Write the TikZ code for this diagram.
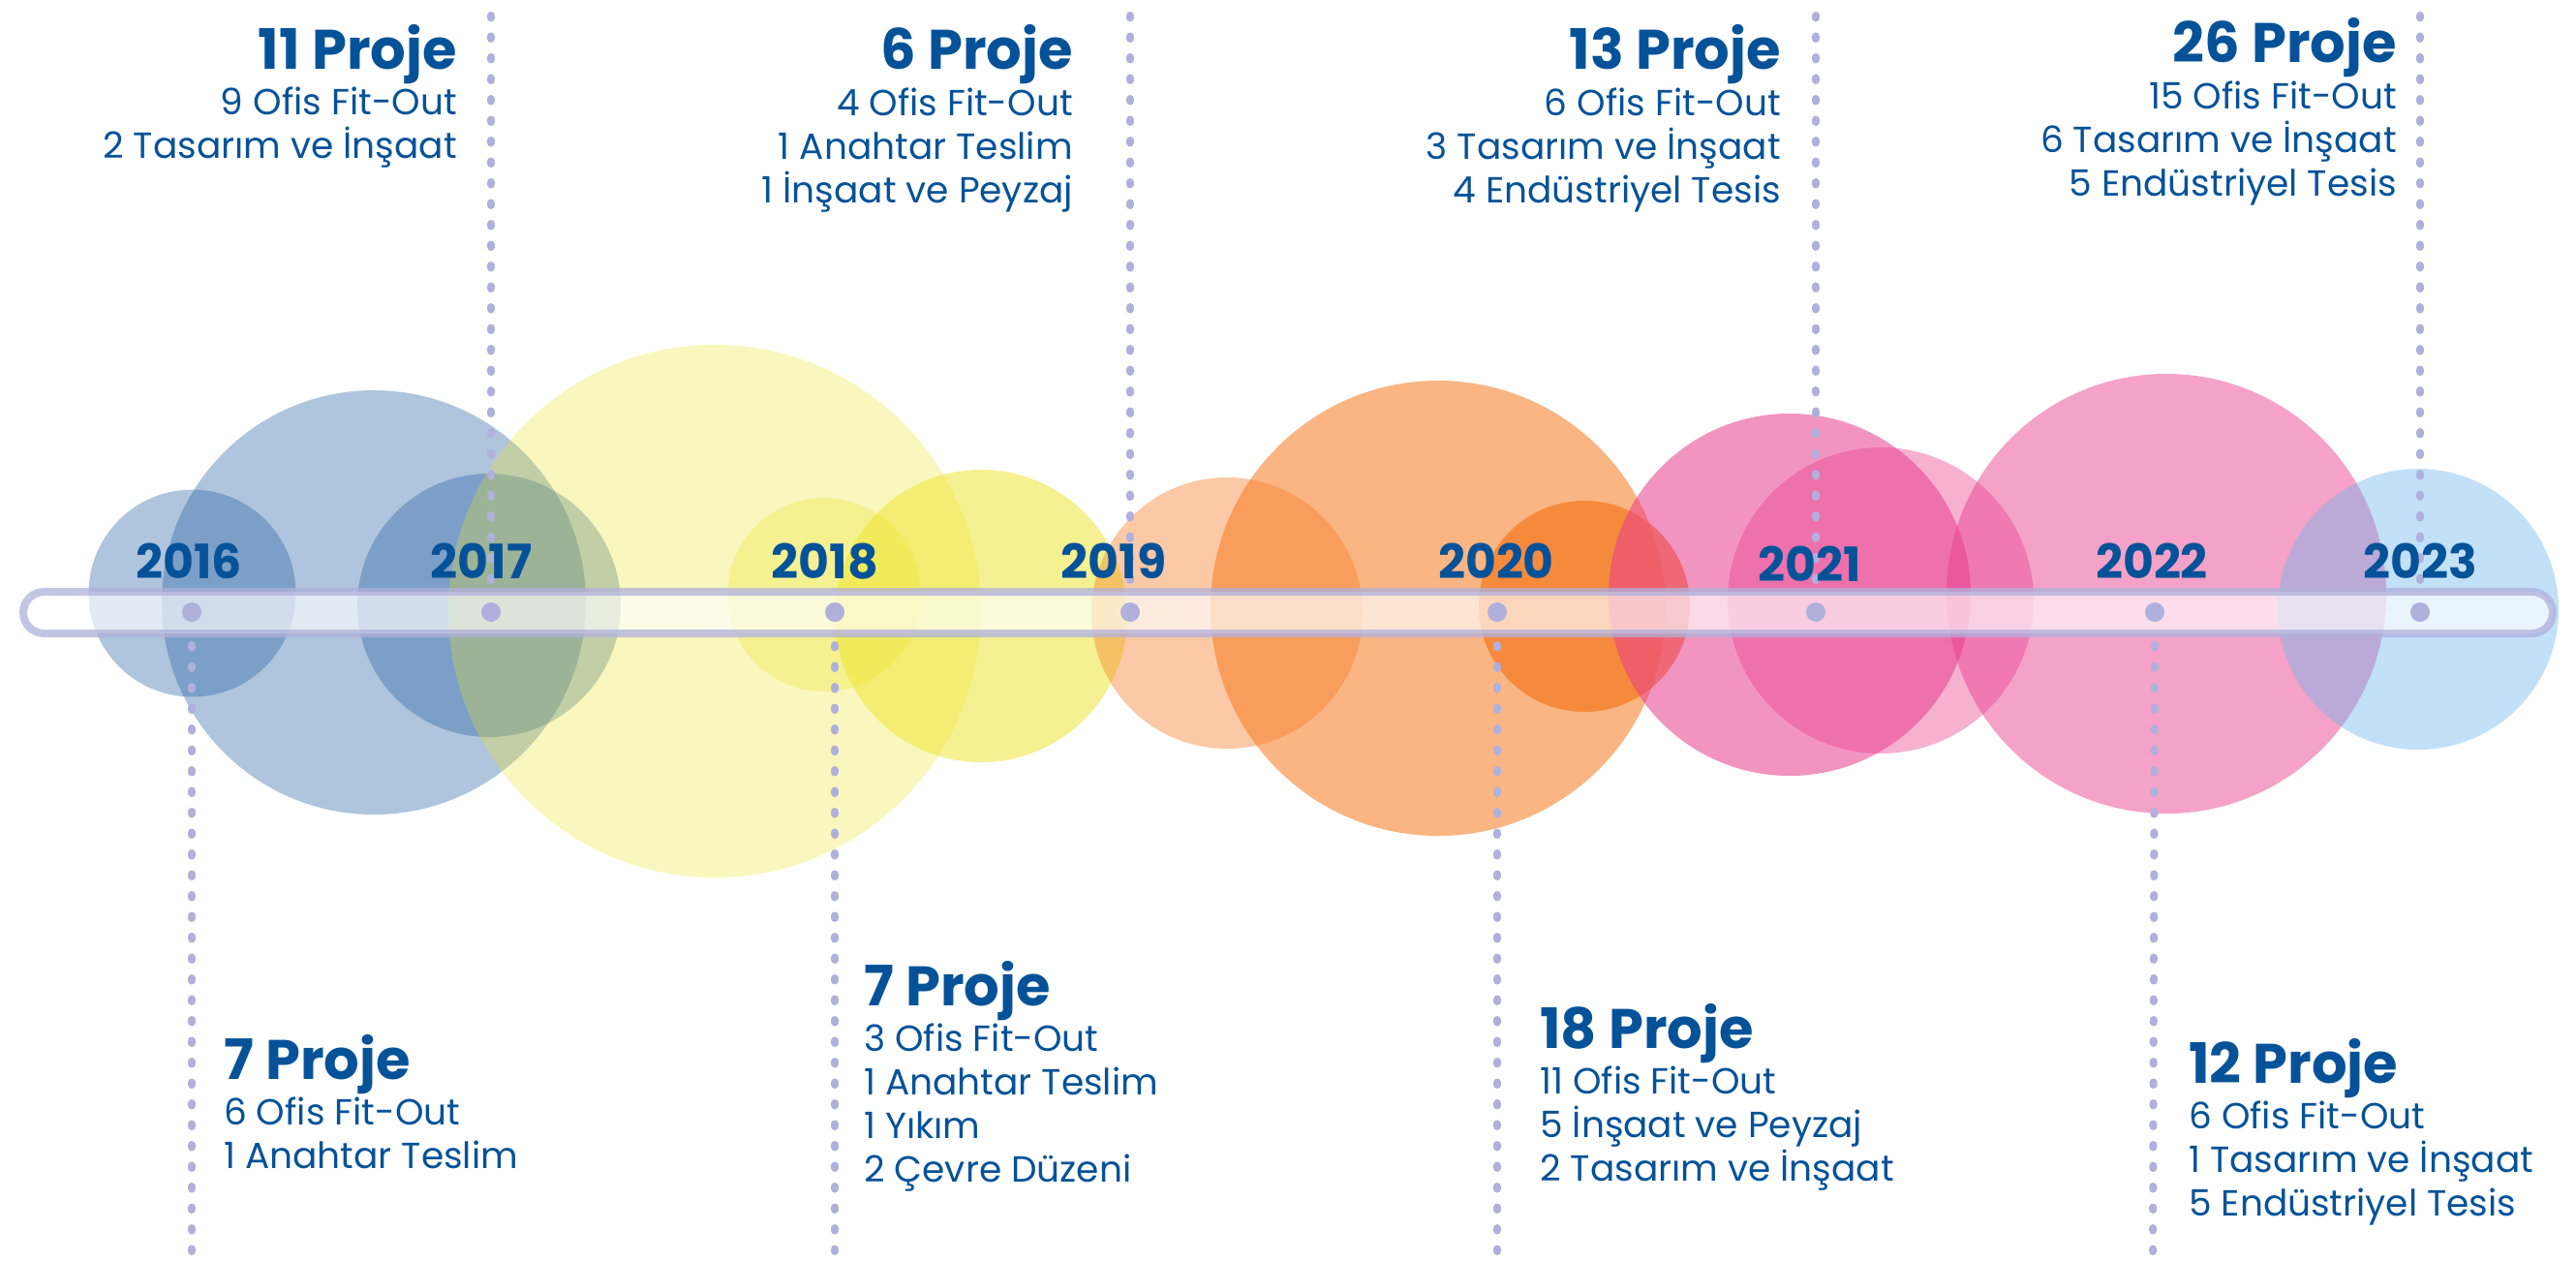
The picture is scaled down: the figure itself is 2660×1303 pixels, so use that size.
\documentclass[tikz,border=0pt]{standalone}
\usepackage{fontspec}
\setmainfont{Poppins}
\usetikzlibrary{calc}

\definecolor{lavender}{RGB}{176,176,220}
\definecolor{deepblue}{RGB}{6,82,153}
\definecolor{bubbleblue}{RGB}{26,89,158}
\definecolor{bubbleyellow}{RGB}{236,228,40}
\definecolor{bubbleorange}{RGB}{245,120,30}
\definecolor{bubblepink}{RGB}{232,60,140}
\definecolor{bubblesky}{RGB}{110,182,235}

\begin{document}
\begin{tikzpicture}[x=1pt, y=-1pt,
        blue_bubble/.style={fill=bubbleblue, fill opacity=0.35},
        yellow_bubble/.style={fill=bubbleyellow, fill opacity=#1},
        orange_bubble/.style={fill=bubbleorange, fill opacity=#1},
        pink_bubble/.style={fill=bubblepink, fill opacity=#1},
        sky_bubble/.style={fill=bubblesky, fill opacity=0.42},
        bar_style/.style={draw=lavender, draw opacity=0.75, line width=8pt, fill=white, fill opacity=0.65,
            rounded corners=21.5pt, minimum width=2612pt, minimum height=43pt, inner sep=0pt},
        dot_style/.style={circle, fill=lavender, minimum size=20pt, inner sep=0pt},
        guide_style/.style={draw=lavender, line width=8pt, line cap=round, dash pattern=on 2.5pt off 19pt},
        year_style/.style={font=\fontsize{49}{52}\selectfont\bfseries, text=deepblue, anchor=base, inner sep=0pt},
        head_style/.style={font=\fontsize{57.5}{60}\selectfont\bfseries, text=deepblue, inner sep=0pt},
        info_style/.style={font=\fontsize{37.5}{45}\selectfont, text=deepblue, inner sep=0pt}]

        \useasboundingbox (0,0) rectangle (2660,1303);

        % bubbles
        \fill [blue_bubble] (198.5,612.5) circle (107pt);
        \fill [blue_bubble] (386,622) circle (219pt);
        \fill [blue_bubble] (505,625) circle (136pt);
        \fill [yellow_bubble=0.3] (738,631) circle (275pt);
        \fill [yellow_bubble=0.3] (851,614) circle (100pt);
        \fill [yellow_bubble=0.5] (1013,636) circle (151pt);
        \fill [orange_bubble=0.4] (1267,633) circle (140pt);
        \fill [orange_bubble=0.55] (1485,628) circle (235pt);
        \fill [orange_bubble=0.7] (1636,626) circle (109pt);
        \fill [pink_bubble=0.55] (1848,614) circle (187pt);
        \fill [pink_bubble=0.4] (1942,620) circle (158pt);
        \fill [pink_bubble=0.48] (2237,613) circle (227pt);
        \fill [sky_bubble] (2497,629) circle (145pt);

        % timeline
        \node [bar_style] (bar) at (1330,632.5) {};

        \node [dot_style] (d16) at (198,632) {};
        \node [dot_style] (d17) at (507,632) {};
        \node [dot_style] (d18) at (862,632) {};
        \node [dot_style] (d19) at (1167,632) {};
        \node [dot_style] (d20) at (1546,632) {};
        \node [dot_style] (d21) at (1875,632) {};
        \node [dot_style] (d22) at (2225,632) {};
        \node [dot_style] (d23) at (2499,632) {};

        \coordinate (b16) at (198,1310);
        \coordinate (t17) at (507,12);
        \coordinate (b18) at (862,1310);
        \coordinate (t19) at (1167,12);
        \coordinate (b20) at (1546,1310);
        \coordinate (t21) at (1875,12);
        \coordinate (b22) at (2223,1310);
        \coordinate (t23) at (2499,12);

        \draw [guide_style, shorten <=8pt] (bar.south -| d16) -- (b16);
        \draw [guide_style, shorten <=8pt] (bar.north -| d17) -- (t17);
        \draw [guide_style, shorten <=8pt] (bar.south -| d18) -- (b18);
        \draw [guide_style, shorten <=8pt] (bar.north -| d19) -- (t19);
        \draw [guide_style, shorten <=8pt] (bar.south -| d20) -- (b20);
        \draw [guide_style, shorten <=8pt] (bar.north -| d21) -- (t21);
        \draw [guide_style, shorten <=8pt] (bar.south -| d22) -- (b22);
        \draw [guide_style, shorten <=8pt] (bar.north -| d23) -- (t23);

        % years
        \node [year_style] (y16) at (195,597) {2016};
        \node [year_style] (y17) at (497,597) {2017};
        \node [year_style] (y18) at (852,597) {2018};
        \node [year_style] (y19) at (1150,597) {2019};
        \node [year_style] (y20) at (1545,597) {2020};
        \node [year_style] (y21) at (1869,600) {2021};
        \node [year_style] (y22) at (2222,597) {2022};
        \node [year_style] (y23) at (2499,597) {2023};

        % project counts above
        \node [head_style, anchor=base east] (h17) at (472,72) {11 Proje};
        \node [info_style, align=right, anchor=base east] (i17) at (472,164) {9 Ofis Fit-Out\\2 Tasarım ve İnşaat};

        \node [head_style, anchor=base east] (h19) at (1108,72) {6 Proje};
        \node [info_style, align=right, anchor=base east] (i19) at (1108,209) {4 Ofis Fit-Out\\1 Anahtar Teslim\\1 İnşaat ve Peyzaj};

        \node [head_style, anchor=base east] (h21) at (1839,72) {13 Proje};
        \node [info_style, align=right, anchor=base east] (i21) at (1839,209) {6 Ofis Fit-Out\\3 Tasarım ve İnşaat\\4 Endüstriyel Tesis};

        \node [head_style, anchor=base east] (h23) at (2475,65) {26 Proje};
        \node [info_style, align=right, anchor=base east] (i23) at (2475,202) {15 Ofis Fit-Out\\6 Tasarım ve İnşaat\\5 Endüstriyel Tesis};

        % project counts below
        \node [head_style, anchor=base west] (h16) at (231,1114) {7 Proje};
        \node [info_style, align=left, anchor=base west] (i16) at (231,1206) {6 Ofis Fit-Out\\1 Anahtar Teslim};

        \node [head_style, anchor=base west] (h18) at (892,1038) {7 Proje};
        \node [info_style, align=left, anchor=base west] (i18) at (892,1220) {3 Ofis Fit-Out\\1 Anahtar Teslim\\1 Yıkım\\2 Çevre Düzeni};

        \node [head_style, anchor=base west] (h20) at (1590,1082) {18 Proje};
        \node [info_style, align=left, anchor=base west] (i20) at (1590,1219) {11 Ofis Fit-Out\\5 İnşaat ve Peyzaj\\2 Tasarım ve İnşaat};

        \node [head_style, anchor=base west] (h22) at (2260,1118) {12 Proje};
        \node [info_style, align=left, anchor=base west] (i22) at (2260,1255) {6 Ofis Fit-Out\\1 Tasarım ve İnşaat\\5 Endüstriyel Tesis};

\end{tikzpicture}
\end{document}
